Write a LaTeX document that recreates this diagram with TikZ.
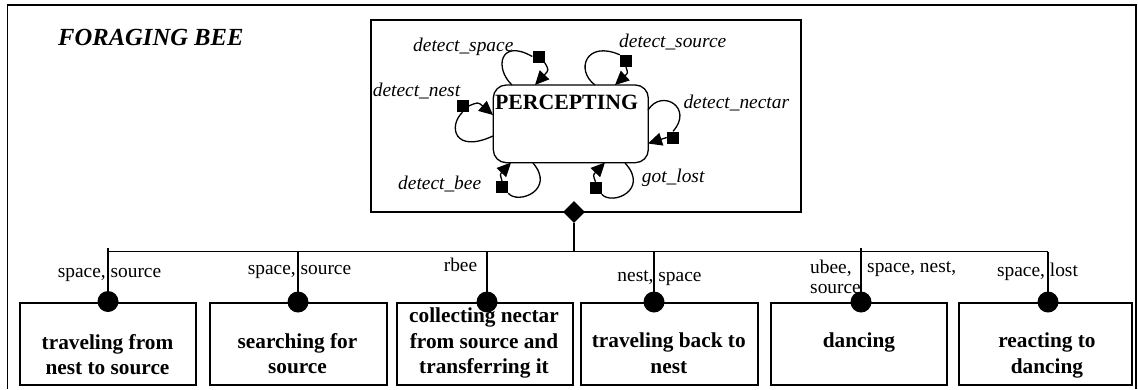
\documentclass[tikz,border=0pt]{standalone}
\usepackage{fontspec}
\setmainfont{Liberation Serif}
\usetikzlibrary{arrows.meta,shapes.geometric}
\begin{document}
\begin{tikzpicture}[x=1pt,y=-1pt,
  ln/.style={line width=1.3pt, black},
  lbl/.style={font=\fontsize{19.4}{22}\selectfont\itshape, inner sep=0pt, anchor=base west},
  tag/.style={font=\fontsize{19.4}{22}\selectfont, inner sep=0pt, anchor=base},
  tagw/.style={font=\fontsize{19.4}{22}\selectfont, inner sep=0pt, anchor=base west},
  act/.style={draw, line width=1.3pt, minimum height=82pt, inner sep=0pt},
  acttext/.style={font=\fontsize{21.3}{25.5}\selectfont\bfseries, align=center, inner sep=0pt},
  sq/.style={fill=black, minimum size=12pt, inner sep=0pt},
  dot/.style={circle, fill=black, minimum size=21pt, inner sep=0pt},
  arr/.style={ln, -{Triangle[length=14pt,width=13pt]}},
]
\useasboundingbox (0,0) rectangle (1138,389);
% outer frame
\draw[ln] (7.5,389) -- (7.5,5) -- (1136,5) -- (1136,389);
\node[font=\fontsize{24.6}{28}\selectfont\bfseries\itshape, inner sep=0pt, anchor=base west] (title) at (58,45) {FORAGING BEE};

% perception frame
\node[draw, ln, minimum width=430pt, minimum height=192pt, inner sep=0pt] (pframe) at (586,116) {};
\node[draw, ln, rounded corners=13pt, minimum width=155pt, minimum height=77.7pt, inner sep=0pt] (perc) at (570.8,123.85) {};
\node[font=\fontsize{21.8}{24}\selectfont\bfseries, inner sep=0pt, anchor=base] (ptext) at (566.5,109.5) {PERCEPTING};

% self loops
\node[sq] (s1) at (538.5,56.5) {};
\draw[ln] (512,85) .. controls (494,68) and (500,38) .. (s1.west);
\draw[arr] (s1.south east) .. controls (549,70) .. (535,85);
\node[lbl] (l1) at (413,51) {detect\_space};

\node[sq] (s2) at (626,61) {};
\draw[ln] (595,85) .. controls (575,70) and (586,40) .. (s2.north west);
\draw[arr] (s2.south) .. controls (628,73) .. (615,85);
\node[lbl] (l2) at (619,47) {detect\_source};

\node[sq] (s3) at (462.5,106) {};
\draw[arr] (s3.east) .. controls (478,102) .. (493,115);
\draw[ln] (s3.south) .. controls (448,126) and (454,154) .. (493,136);
\node[lbl] (l3) at (372.7,96) {detect\_nest};

\node[sq] (s4) at (673,137.5) {};
\draw[ln] (648,110) .. controls (662,88) and (694,108) .. (s4.north);
\draw[arr] (s4.west) -- (648,143.5);
\node[lbl] (l4) at (683.3,108) {detect\_nectar};

\node[sq] (s5) at (502,187) {};
\draw[arr] (s5.north) .. controls (500,174) .. (511,162.5);
\draw[ln] (s5.south east) .. controls (518,205) and (556,190) .. (533,163);
\node[lbl] (l5) at (398,189) {detect\_bee};

\node[sq] (s6) at (595.5,188) {};
\draw[arr] (s6.north) .. controls (593,175) .. (605,162.5);
\draw[ln] (s6.south east) .. controls (612,206) and (650,190) .. (625,163);
\node[lbl] (l6) at (641.7,182.5) {got\_lost};

% diamond and bus
\node[diamond, fill=black, minimum size=22pt, inner sep=0pt] (dia) at (574,212) {};
\coordinate (jd) at (574,251.5);
\coordinate (busL) at (108,251.5);
\coordinate (busR) at (1048,251.5);
\draw[ln] (dia.south) -- (jd);
\draw[ln] (busL) -- (busR);

% activity boxes
\node[act, minimum width=176pt] (b1) at (108,344) {};
\node[act, minimum width=177pt] (b2) at (298.5,344) {};
\node[act, minimum width=176pt] (b3) at (485,344) {};
\node[act, minimum width=177pt] (b4) at (669.5,344) {};
\node[act, minimum width=176pt] (b5) at (859,344) {};
\node[act, minimum width=173pt] (b6) at (1045.5,344) {};

\node[acttext] (t1) at (107.5,354.6) {traveling from\\nest to source};
\node[acttext] (t2) at (297.5,353.7) {searching for\\source};
\node[acttext] (t3) at (484,343.4) {collecting nectar\\from source and\\transferring it};
\node[acttext] (t4) at (668.8,353.4) {traveling back to\\nest};
\node[acttext] (t5) at (859,342.9) {dancing};
\node[acttext] (t6) at (1047,355.6) {reacting to\\dancing};

% branch labels
\node[tag] (g1) at (109.5,277) {space, source};
\node[tag] (g2) at (299.5,274.3) {space, source};
\node[tag] (g3) at (460.5,271.7) {rbee};
\node[tag] (g4) at (659.5,281.7) {nest, space};
\node[tagw] (g5a) at (810,273.3) {ubee,};
\node[tagw] (g5b) at (810,293.3) {source};
\node[tagw] (g5c) at (867,272.7) {space, nest,};
\node[tag] (g6) at (1037.5,276.7) {space, lost};

% branches and dots
\coordinate (j1) at (108,248);
\coordinate (j2) at (298,251.5);
\coordinate (j3) at (487,251.5);
\coordinate (j4) at (654,251.5);
\coordinate (j5) at (861,248);
\coordinate (j6) at (1048,251.5);
\node[dot] (d1) at (108,301.5) {};
\node[dot] (d2) at (298,302) {};
\node[dot] (d3) at (487,302) {};
\node[dot] (d4) at (654,302) {};
\node[dot] (d5) at (861,302) {};
\node[dot] (d6) at (1048,302) {};
\draw[ln] (j1) -- (d1.center);
\draw[ln] (j2) -- (d2.center);
\draw[ln] (j3) -- (d3.center);
\draw[ln] (j4) -- (d4.center);
\draw[ln] (j5) -- (d5.center);
\draw[ln] (j6) -- (d6.center);
\end{tikzpicture}
\end{document}
